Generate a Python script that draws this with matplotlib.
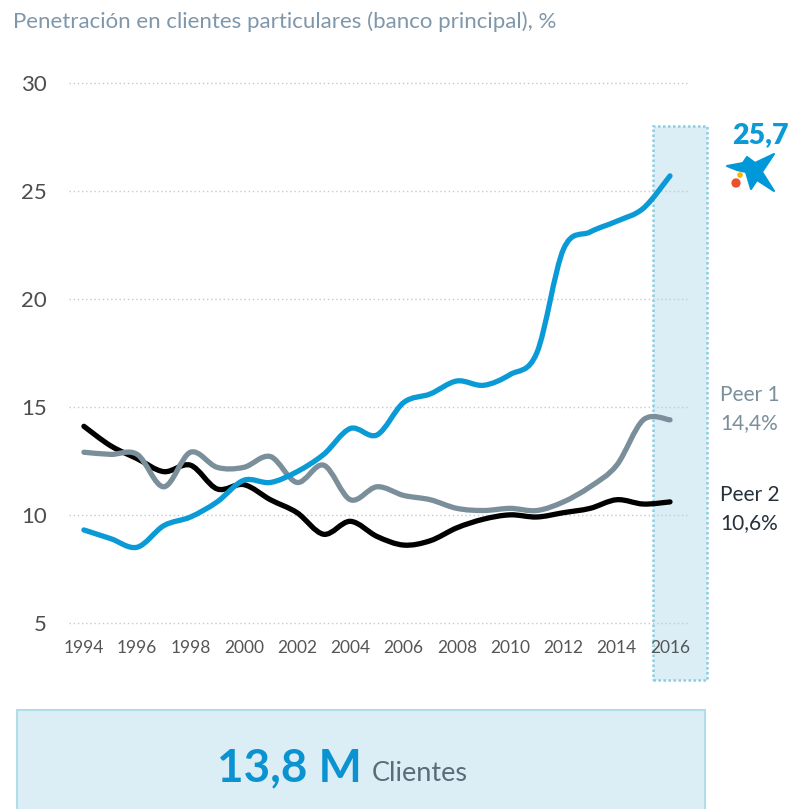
import matplotlib
matplotlib.use("Agg")
import matplotlib.pyplot as plt
from matplotlib.path import Path
from matplotlib.patches import PathPatch, Rectangle, Polygon, Circle

years = list(range(1994, 2017))
caixa = [9.3, 8.9, 8.5, 9.5, 9.9, 10.6, 11.6, 11.5, 12.0, 12.8, 14.0, 13.7,
         15.2, 15.6, 16.2, 16.0, 16.5, 17.5, 22.3, 23.1, 23.6, 24.2, 25.7]
peer1 = [12.9, 12.8, 12.8, 11.3, 12.9, 12.2, 12.2, 12.7, 11.5, 12.3, 10.7, 11.3,
         10.9, 10.7, 10.3, 10.2, 10.3, 10.2, 10.6, 11.3, 12.3, 14.4, 14.4]
peer2 = [14.1, 13.2, 12.6, 12.0, 12.3, 11.2, 11.4, 10.7, 10.1, 9.1, 9.7, 9.0,
         8.6, 8.8, 9.4, 9.8, 10.0, 9.9, 10.1, 10.3, 10.7, 10.5, 10.6]
yticks = [5, 10, 15, 20, 25, 30]
xticks = list(range(1994, 2017, 2))

BLUE = "#0a9ad6"
GREY = "#7b8f9b"
TITLE = "#7f97ab"

sans = ["Lato", "DejaVu Sans"]


def smooth_path(xs, ys):
    # excel-style smoothed line: catmull-rom turned into bezier segments
    pts = list(zip(xs, ys))
    verts = [pts[0]]
    codes = [Path.MOVETO]
    n = len(pts)
    for i in range(n - 1):
        p0 = pts[max(i - 1, 0)]
        p1 = pts[i]
        p2 = pts[i + 1]
        p3 = pts[min(i + 2, n - 1)]
        c1 = (p1[0] + (p2[0] - p0[0]) / 6, p1[1] + (p2[1] - p0[1]) / 6)
        c2 = (p2[0] - (p3[0] - p1[0]) / 6, p2[1] - (p3[1] - p1[1]) / 6)
        verts += [c1, c2, p2]
        codes += [Path.CURVE4] * 3
    return Path(verts, codes)


fig = plt.figure(figsize=(7.94, 8.09), dpi=100)
ax = fig.add_axes([0.0869, 0.2275, 0.7821, 0.6832])
ax.set_xlim(1993.44, 2016.75)
ax.set_ylim(4.9, 30.5)
for s in ax.spines.values():
    s.set_visible(False)

for v in yticks:
    ax.axhline(v, color="#c9c9c9", lw=1.0, ls=(0, (1, 2)), zorder=1)

band = Rectangle((2015.35, 2.36), 2.05, 25.64, facecolor="#dbeef5",
                 edgecolor="#8ccde2", lw=1.8, ls=(0, (1, 1)), clip_on=False, zorder=0)
ax.add_patch(band)

for vals, col in [(peer2, "black"), (peer1, GREY), (caixa, BLUE)]:
    ax.add_patch(PathPatch(smooth_path(years, vals), fill=False, edgecolor=col,
                           lw=3.8, capstyle="round", joinstyle="round", zorder=3))

ax.set_yticks(yticks)
ax.set_yticklabels([str(v) for v in yticks], fontsize=16, color="#4d4d4d", family=sans)
ax.set_xticks(xticks)
ax.set_xticklabels([str(v) for v in xticks], fontsize=12.5, color="#555555", family=sans)
ax.tick_params(axis="y", length=0, pad=16)
ax.tick_params(axis="x", length=0, pad=11)

fig.text(13 / 794, 1 - 22 / 809, "Penetración en clientes particulares (banco principal), %",
         fontsize=16, color=TITLE, va="center", ha="left", family=sans)

# end labels
fig.text(732 / 794, 1 - 135 / 809, "25,7", fontsize=20.5, fontweight="heavy", color=BLUE,
         va="center", ha="left", family=sans)
fig.text(720 / 794, 1 - 395 / 809, "Peer 1", fontsize=15, color=GREY, va="center", family=sans)
fig.text(720 / 794, 1 - 423 / 809, "14,4%", fontsize=15, color=GREY, va="center", family=sans)
fig.text(720 / 794, 1 - 495 / 809, "Peer 2", fontsize=15, color="#26313b", va="center", family=sans)
fig.text(720 / 794, 1 - 523 / 809, "10,6%", fontsize=15, color="#26313b", va="center", family=sans)


# star logo, drawn in figure pixels
def px(x, y):
    return (x / 794, 1 - y / 809)


star = [px(727, 166), px(743, 163), px(747, 157), px(755, 163), px(774, 154),
        px(762, 172), px(774, 191), px(757, 180), px(751, 189), px(746, 172),
        px(737, 170)]
fig.patches.append(Polygon(star, closed=True, transform=fig.transFigure,
                           facecolor="#0098d8", edgecolor="#0098d8", lw=1.5,
                           joinstyle="round"))
fig.patches.append(Circle(px(740, 175), 2.8 / 794, transform=fig.transFigure,
                          facecolor="#f7b500", edgecolor="none"))
fig.patches.append(Circle(px(736, 183), 4.6 / 794, transform=fig.transFigure,
                          facecolor="#e9502b", edgecolor="none"))

# bottom box
fig.patches.append(Rectangle((17 / 794, -0.01), 688 / 794, (809 - 710) / 809 + 0.01,
                             transform=fig.transFigure, facecolor="#dbeef5",
                             edgecolor="#b3dce9", lw=1.5))
fig.text(362 / 794, 1 - 781 / 809, "13,8 M", fontsize=33, fontweight="bold", color="#0a93d0",
         ha="right", va="baseline", family=sans)
fig.text(372 / 794, 1 - 781 / 809, "Clientes", fontsize=19.5, color="#5c6b78",
         ha="left", va="baseline", family=sans)

fig.savefig("out.png", dpi=100)
